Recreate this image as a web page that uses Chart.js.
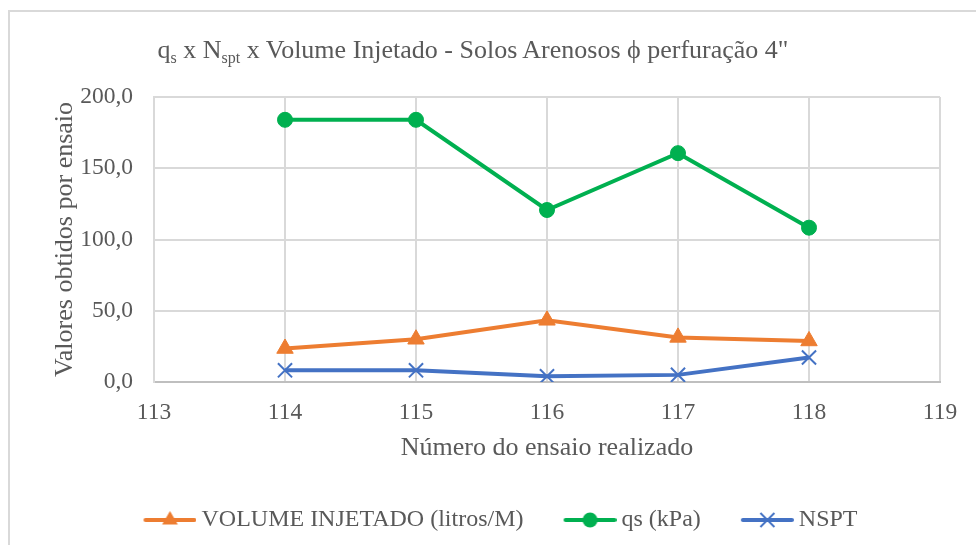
<!DOCTYPE html>
<html><head><meta charset="utf-8">
<script src="https://cdn.jsdelivr.net/npm/chart.js@4.4.0/dist/chart.umd.min.js"></script>
<style>
html,body{margin:0;padding:0;background:#fff;}
#wrap{position:relative;width:976px;height:545px;overflow:hidden;background:#fff;}
#frame{position:absolute;left:8px;top:10px;width:1100px;height:600px;border:2px solid #d9d9d9;box-sizing:border-box;}
#title{position:absolute;left:0;width:946px;top:35px;text-align:center;font-family:"Liberation Serif","Times New Roman",serif;font-size:26px;line-height:30px;color:#595959;white-space:nowrap;}
#title sub{font-size:16px;vertical-align:-5px;line-height:0;}
#c{position:absolute;left:0;top:0;}
</style></head>
<body>
<div id="wrap">
  <div id="frame"></div>
  <canvas id="c" width="976" height="545"></canvas>
  <div id="title">q<sub>s</sub> x N<sub>spt</sub> x Volume Injetado - Solos Arenosos ϕ perfuração 4"</div>
</div>
<script>
const ensaios = [114, 115, 116, 117, 118];
const volumeInjetado = [23.5, 30.0, 43.3, 31.3, 28.8];
const qsKpa = [184.0, 184.0, 120.7, 160.6, 108.3];
const nspt = [8.2, 8.2, 4.0, 5.0, 17.2];
const seriesNames = ["VOLUME INJETADO (litros/M)", "qs (kPa)", "NSPT"];
const xTitle = "Número do ensaio realizado";
const yTitle = "Valores obtidos por ensaio";

const colors = ['#ED7D31', '#00B050', '#4472C4'];
const styles = ['triangle', 'circle', 'crossRot'];
const textColor = '#595959';
const serif = '"Liberation Serif", "Times New Roman", serif';

function legendIcon(color, style) {
  const W = 90, H = 22;
  const cv = document.createElement('canvas');
  cv.width = W; cv.height = H;
  const g = cv.getContext('2d');
  const y = H / 2, x0 = W - 53, cx = W - 26.5;
  g.strokeStyle = color; g.lineWidth = 4; g.lineCap = 'round';
  g.beginPath(); g.moveTo(x0 + 2, y); g.lineTo(W - 2, y); g.stroke();
  g.fillStyle = color;
  if (style === 'triangle') {
    const r = 9;
    g.beginPath();
    g.moveTo(cx, y - r); g.lineTo(cx + r * 0.87, y + r * 0.5); g.lineTo(cx - r * 0.87, y + r * 0.5);
    g.closePath(); g.fill();
  } else if (style === 'circle') {
    g.beginPath(); g.arc(cx, y, 7.5, 0, Math.PI * 2); g.fill();
  } else {
    const r = 7;
    g.lineWidth = 2; g.lineCap = 'butt';
    g.beginPath();
    g.moveTo(cx - r, y - r); g.lineTo(cx + r, y + r);
    g.moveTo(cx + r, y - r); g.lineTo(cx - r, y + r);
    g.stroke();
  }
  return cv;
}

const allSeries = [volumeInjetado, qsKpa, nspt];
const radii = [9.5, 7.5, 10];
const datasets = allSeries.map((vals, i) => ({
  label: seriesNames[i],
  data: ensaios.map((x, j) => ({ x: x, y: vals[j] })),
  borderColor: colors[i],
  backgroundColor: colors[i],
  borderWidth: 4,
  pointStyle: styles[i],
  pointRadius: radii[i],
  pointHoverRadius: radii[i],
  pointBorderWidth: i === 2 ? 2 : 1,
  pointBackgroundColor: colors[i],
  pointBorderColor: colors[i],
  tension: 0,
  fill: false,
  yAxisID: 'y'
}));

const icons = colors.map((c, i) => legendIcon(c, styles[i]));

new Chart(document.getElementById('c'), {
  type: 'line',
  data: { datasets: datasets },
  options: {
    responsive: false,
    animation: false,
    devicePixelRatio: 1,
    layout: { padding: { top: 97, left: 15, right: 20, bottom: 3 } },
    plugins: {
      title: { display: false },
      tooltip: { enabled: false },
      legend: {
        position: 'bottom',
        labels: {
          usePointStyle: true,
          pointStyleWidth: 76,
          padding: 10,
          color: textColor,
          font: { family: serif, size: 24 },
          generateLabels: (chart) => chart.data.datasets.map((ds, i) => ({
            text: ds.label,
            fillStyle: colors[i],
            strokeStyle: colors[i],
            lineWidth: 0,
            pointStyle: icons[i],
            hidden: false,
            datasetIndex: i,
            fontColor: textColor
          }))
        }
      }
    },
    scales: {
      x: {
        type: 'linear',
        min: 113, max: 119,
        afterFit: (s) => { s.height = 116; },
        ticks: { stepSize: 1, padding: 17, color: textColor, font: { family: serif, size: 23.5 },
          callback: (v) => String(v) },
        grid: { color: '#d9d9d9', lineWidth: 2, drawTicks: false },
        border: { display: true, color: '#bfbfbf', width: 2 },
        title: { display: true, text: xTitle, color: textColor, font: { family: serif, size: 26 },
          padding: { top: 0, bottom: 34 } }
      },
      y: {
        position: 'left',
        min: 0, max: 200,
        afterFit: (s) => { s.width = 139; },
        ticks: { stepSize: 50, padding: 21, color: textColor, font: { family: serif, size: 23.5 },
          callback: (v) => v.toFixed(1).replace('.', ',') },
        grid: { color: '#d9d9d9', lineWidth: 2, drawTicks: false },
        border: { display: true, color: '#d9d9d9', width: 2 },
        title: { display: true, text: yTitle, color: textColor, font: { family: serif, size: 26 },
          padding: { top: 35, bottom: 0 } }
      },
      spacer: {
        position: 'right',
        min: 0, max: 200,
        afterFit: (s) => { s.width = 16; },
        ticks: { display: false },
        grid: { display: false, drawOnChartArea: false },
        border: { display: false },
        title: { display: false }
      }
    }
  }
});
</script>
</body></html>
